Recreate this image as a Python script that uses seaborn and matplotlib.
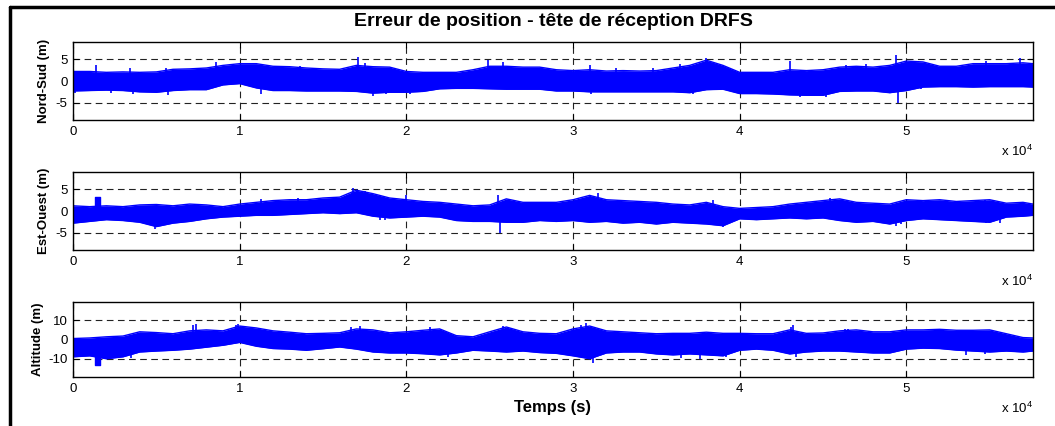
import numpy as np
import matplotlib
matplotlib.use("Agg")
import matplotlib.pyplot as plt
import seaborn as sns

# Time base (s) of the envelope readings
t = [0, 1000, 2000, 3000, 4000, 5000, 6000, 7000, 8000, 9000,
     10000, 11000, 12000, 13000, 14000, 15000, 16000, 17000, 18000, 19000,
     20000, 21000, 22000, 23000, 24000, 25000, 26000, 27000, 28000, 29000,
     30000, 31000, 32000, 33000, 34000, 35000, 36000, 37000, 38000, 39000,
     40000, 41000, 42000, 43000, 44000, 45000, 46000, 47000, 48000, 49000,
     50000, 51000, 52000, 53000, 54000, 55000, 56000, 57000, 57600]

# Nord-Sud error envelope (m)
ns_hi = [2.2, 2.2, 2.0, 2.1, 2.0, 2.1, 2.7, 2.8, 3.0, 3.6,
         4.0, 4.0, 3.4, 3.3, 3.0, 2.8, 2.7, 3.6, 3.3, 3.2,
         2.2, 2.0, 2.0, 2.0, 2.6, 3.4, 3.4, 3.2, 3.2, 2.6,
         2.4, 2.6, 2.3, 2.4, 2.3, 2.4, 3.0, 3.6, 4.8, 3.6,
         2.0, 2.0, 2.0, 2.6, 2.4, 2.6, 3.2, 3.4, 3.2, 3.6,
         4.6, 4.4, 3.4, 3.4, 4.0, 4.0, 4.0, 4.2, 4.0]
ns_lo = [-2.3, -2.2, -2.1, -2.2, -2.5, -2.6, -2.2, -2.0, -2.0, -0.9,
         -0.6, -1.6, -2.2, -2.2, -2.3, -2.3, -2.3, -2.4, -2.8, -2.6,
         -2.6, -2.4, -1.8, -1.7, -1.7, -1.8, -1.9, -1.9, -1.9, -2.3,
         -2.3, -2.5, -2.5, -2.5, -2.5, -2.5, -2.5, -2.7, -2.0, -1.9,
         -2.9, -2.9, -3.0, -3.2, -3.3, -3.3, -2.4, -2.3, -2.3, -2.7,
         -2.2, -1.4, -1.3, -1.3, -1.4, -1.3, -1.3, -1.3, -1.4]
ns_spike_t = [100, 1400, 2300, 3400, 3600, 5600, 5700, 8600, 11300, 13600,
              17100, 17500, 18000, 18800, 20200, 24900, 25800, 31000, 31100, 32600,
              34800, 36400, 37200, 38000, 43000, 43600, 45200, 46400, 47600, 49400,
              49500, 50900, 54800, 56800]
ns_spike_v = [-2.7, 3.7, -2.8, 3.0, -2.9, 2.9, -3.3, 4.5, -2.9, 3.5,
              5.6, 4.2, -3.5, -3.1, -3.1, 4.8, 4.5, 3.6, -2.9, 3.0,
              3.0, 4.0, -3.1, 5.3, 4.6, -3.6, -3.7, 3.8, 4.0, 5.9,
              -5.0, -1.9, 4.7, 5.3]

# Est-Ouest error envelope (m)
eo_hi = [1.2, 1.0, 1.2, 1.0, 1.4, 1.5, 1.2, 1.6, 1.4, 1.0,
         1.6, 2.0, 2.4, 2.6, 2.6, 3.0, 3.2, 4.8, 4.0, 3.0,
         2.6, 2.2, 2.0, 1.6, 1.2, 1.4, 2.8, 2.0, 2.0, 2.0,
         2.6, 3.6, 2.6, 2.4, 2.2, 2.0, 1.6, 1.4, 2.0, 1.0,
         0.6, 0.8, 1.0, 1.6, 2.0, 2.4, 2.8, 2.0, 1.8, 1.6,
         2.6, 2.4, 2.6, 2.2, 2.4, 2.6, 1.8, 2.0, 1.6]
eo_lo = [-2.8, -2.4, -2.0, -2.2, -2.6, -3.6, -2.8, -2.4, -1.8, -1.4,
         -1.2, -1.0, -1.0, -0.8, -0.6, -0.4, -0.6, -0.4, -1.2, -1.6,
         -1.4, -1.2, -1.4, -2.2, -2.4, -2.4, -2.6, -2.6, -2.2, -2.4,
         -2.2, -2.6, -2.4, -2.8, -2.6, -3.0, -2.6, -2.8, -3.0, -3.4,
         -1.8, -2.0, -1.8, -1.6, -1.8, -1.6, -2.2, -2.6, -2.4, -3.0,
         -2.2, -1.8, -2.0, -2.2, -2.4, -2.6, -1.4, -1.2, -1.0]
eo_step_t = [1300, 1600]
eo_step_lo = [0.2, 0.2]
eo_step_hi = [3.2, 3.2]
eo_spike_t = [4900, 11300, 13500, 16800, 17500, 18400, 18700, 20000, 25500, 25600,
              31500, 31600, 38400, 39000, 45400, 49400, 49700, 54700, 54750, 55600]
eo_spike_v = [-4.2, 2.7, 3.0, 5.2, 4.6, -2.1, -2.0, 3.6, 3.8, -5.0,
              4.2, -2.6, 2.6, -3.6, 2.9, -3.4, -3.1, 2.5, -2.7, -2.8]

# Altitude error envelope (m)
alt_hi = [0.5, 0.8, 1.4, 1.8, 4.0, 3.6, 3.0, 4.5, 5.0, 4.5,
          7.0, 6.0, 4.5, 3.8, 3.0, 3.2, 3.5, 5.5, 5.0, 3.5,
          4.0, 4.8, 5.5, 2.0, 1.4, 4.0, 6.5, 4.0, 3.2, 3.0,
          5.5, 7.0, 4.5, 4.0, 3.5, 3.0, 3.2, 3.2, 3.8, 3.2,
          3.2, 3.0, 3.0, 5.0, 3.2, 3.4, 4.5, 5.0, 4.0, 4.0,
          5.0, 5.0, 5.3, 4.8, 4.8, 5.0, 3.0, 1.0, 0.8]
alt_lo = [-9.0, -8.5, -10.0, -9.0, -6.5, -6.0, -5.6, -5.0, -4.0, -3.0,
          -1.5, -3.5, -4.7, -5.0, -5.6, -4.8, -3.9, -5.0, -6.5, -7.0,
          -7.0, -7.4, -8.0, -7.0, -5.6, -6.0, -6.5, -6.0, -6.8, -7.2,
          -8.5, -10.0, -7.0, -6.5, -6.5, -7.5, -8.0, -7.5, -8.0, -8.5,
          -5.6, -5.0, -5.6, -7.5, -6.5, -6.0, -6.0, -6.5, -7.0, -7.0,
          -5.0, -4.5, -4.7, -5.5, -6.0, -6.5, -6.0, -6.5, -6.0]
alt_step_t = [1300, 1600]
alt_step_lo = [-13.5, -13.5]
alt_step_hi = [-2.0, -2.0]
alt_spike_t = [3500, 7200, 7400, 9800, 9900, 16700, 17200, 21400, 22500, 25800,
               30500, 30800, 31200, 36500, 37600, 39200, 43100, 43200, 43400, 46300,
               46500, 53600, 54700]
alt_spike_v = [-9.5, 7.5, 8.0, 7.5, 8.0, 6.3, 6.8, 6.7, -9.0, 6.8,
               7.5, 8.5, -12.0, -9.8, -10.0, -9.2, 6.7, 7.5, -9.2, 5.3,
               5.5, -7.8, -7.7]

panels = [
    ("Nord-Sud (m)", ns_hi, ns_lo, None, ns_spike_t, ns_spike_v, [-5, 0, 5], 9.0, 44),
    ("Est-Ouest (m)", eo_hi, eo_lo, (eo_step_t, eo_step_lo, eo_step_hi), eo_spike_t, eo_spike_v, [-5, 0, 5], 9.0, 44),
    ("Altitude (m)", alt_hi, alt_lo, (alt_step_t, alt_step_lo, alt_step_hi), alt_spike_t, alt_spike_v, [-10, 0, 10], 19.5, 38),
]

sns.set_theme(style="white")
plt.rcParams['font.family'] = ['Liberation Sans', 'DejaVu Sans']
plt.rcParams['text.color'] = 'black'
plt.rcParams['axes.labelcolor'] = 'black'
plt.rcParams['axes.unicode_minus'] = False
plt.rcParams['mathtext.fontset'] = 'custom'
plt.rcParams['mathtext.rm'] = 'Liberation Sans'
plt.rcParams['mathtext.default'] = 'regular'

W, H = 1055, 426
fig = plt.figure(figsize=(W / 100, H / 100), dpi=100)
fig.patch.set_facecolor('white')

# axes boxes in pixels (left, top, right, bottom)
boxes = [(73, 42, 1033, 120), (73, 172, 1033, 250), (73, 302, 1033, 377)]
blue = '#0000ff'

for (lab, hi, lo, step, sp_t, sp_v, yt, ylim, lab_x), (l, tp, r, b) in zip(panels, boxes):
    ax = fig.add_axes([l / W, 1 - b / H, (r - l) / W, (b - tp) / H])
    ax.fill_between(t, lo, hi, color=blue, lw=0, zorder=3)
    sns.lineplot(x=t, y=hi, ax=ax, color=blue, lw=1, zorder=3)
    sns.lineplot(x=t, y=lo, ax=ax, color=blue, lw=1, zorder=3)
    if step is not None:
        ax.fill_between(step[0], step[1], step[2], color=blue, lw=1, edgecolor=blue, zorder=3)
    ax.vlines(sp_t, 0, sp_v, color=blue, lw=1.2, zorder=3)

    ax.set_xlim(0, 57600)
    ax.set_ylim(-ylim, ylim)
    ax.set_xticks([0, 10000, 20000, 30000, 40000, 50000])
    ax.set_xticklabels(['0', '1', '2', '3', '4', '5'])
    ax.set_yticks(yt)
    ax.tick_params(direction='in', length=4, width=0.8, labelsize=9.5,
                   colors='black', pad=4, top=True, right=True, bottom=True, left=True)
    ax.grid(True, color='#222222', lw=0.8, ls=(0, (6, 4)), zorder=1)
    for s in ax.spines.values():
        s.set_color('black')
        s.set_linewidth(1.0)
        s.set_zorder(5)
    ax.set_ylabel(lab, fontsize=9.5, fontweight='bold', va='center')
    ax.yaxis.set_label_coords((lab_x - l) / (r - l), 0.5)
    ax.annotate('x 10$^{4}$', xy=(1, 0), xycoords='axes fraction',
                xytext=(0, -31), textcoords='offset pixels',
                ha='right', va='center', fontsize=9.5)
    last_ax = ax

last_ax.set_xlabel('Temps (s)', fontsize=12, fontweight='bold', labelpad=4)

fig.text(553 / W, 1 - 22 / H, 'Erreur de position - tête de réception DRFS',
         ha='center', va='center', fontsize=14, fontweight='bold')

# outer frame of the original figure
fig.add_artist(plt.Line2D([10 / W, 1], [1 - 7 / H, 1 - 7 / H], color='black', lw=2.5,
                          transform=fig.transFigure))
fig.add_artist(plt.Line2D([10 / W, 10 / W], [1 - 7 / H, 0], color='black', lw=2.5,
                          transform=fig.transFigure))

fig.savefig('out.png', dpi=100)
